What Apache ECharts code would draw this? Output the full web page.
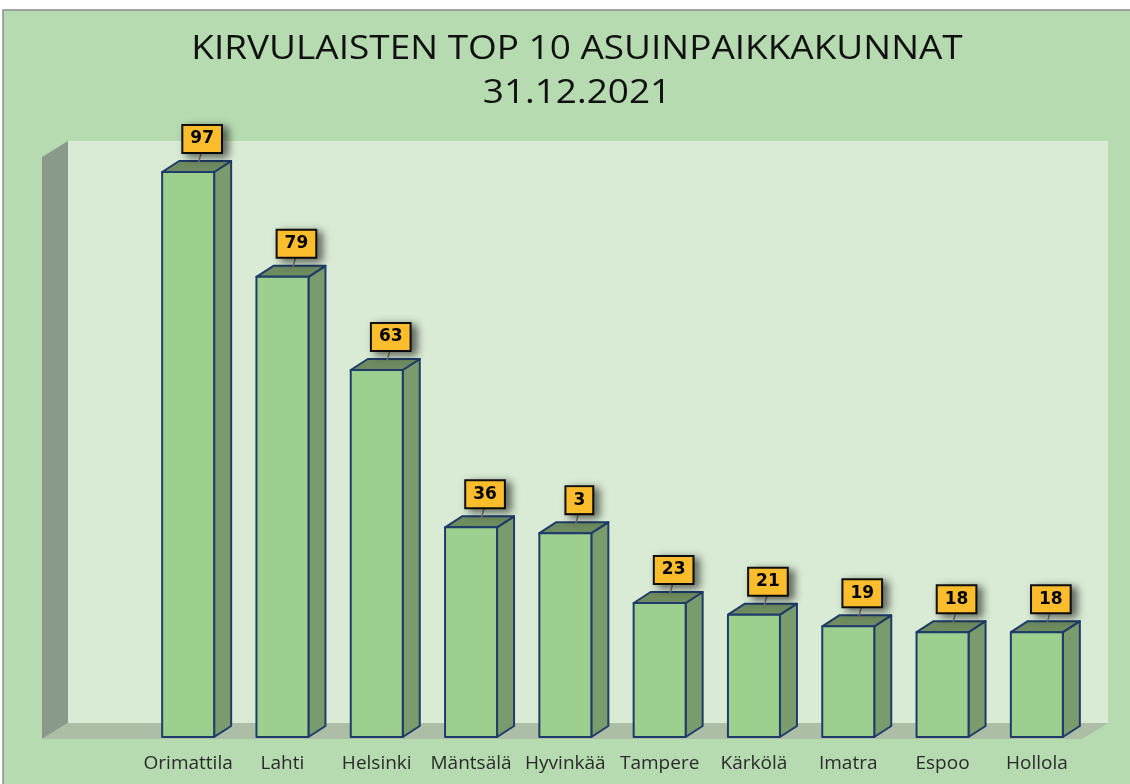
<!DOCTYPE html>
<html>
<head>
<meta charset="utf-8">
<script src="https://cdn.jsdelivr.net/npm/echarts@6/dist/echarts.min.js"></script>
<style>
  html, body { margin: 0; padding: 0; background: #fff; }
  #chart { width: 1130px; height: 784px; }
</style>
</head>
<body>
<div id="chart"></div>
<script>
// kunnat
const categories = ['Orimattila', 'Lahti', 'Helsinki', 'Mäntsälä', 'Hyvinkää', 'Tampere', 'Kärkölä', 'Imatra', 'Espoo', 'Hollola'];
// pylväiden korkeudet
const values = [97, 79, 63, 36, 35, 23, 21, 19, 18, 18];
// arvolaatikoiden tekstit niin kuin kuvassa
const labelTexts = ['97', '79', '63', '36', '3', '23', '21', '19', '18', '18'];
const titleLines = ['KIRVULAISTEN TOP 10 ASUINPAIKKAKUNNAT', '31.12.2021'];

const chart = echarts.init(document.getElementById('chart'));

// 3D-pylvään syvyys
const DX = 17;
const DY = 11;
const BAR_W = 52;

function renderBar(params, api) {
  const i = api.value(0);
  const top = api.coord([i, api.value(1)]);
  const base = api.coord([i, 0]);
  const l = top[0] - BAR_W / 2;
  const r = top[0] + BAR_W / 2;
  const border = { stroke: '#1f3b6a', lineWidth: 2, lineJoin: 'round' };
  const bx = top[0] + 14;
  const bBottom = top[1] - DY - 8;
  return {
    type: 'group',
    children: [
      {
        type: 'polygon',
        shape: { points: [[r, base[1]], [r + DX, base[1] - DY], [r + DX, top[1] - DY], [r, top[1]]] },
        style: Object.assign({ fill: '#7a9c6c' }, border)
      },
      {
        type: 'polygon',
        shape: { points: [[l, top[1]], [l + DX, top[1] - DY], [r + DX, top[1] - DY], [r, top[1]]] },
        style: Object.assign({ fill: '#6e8c5f' }, border)
      },
      {
        type: 'rect',
        shape: { x: l, y: top[1], width: BAR_W, height: base[1] - top[1] },
        style: Object.assign({ fill: '#9dcf8f' }, border)
      },
      {
        type: 'line',
        shape: { x1: bx - 1, y1: bBottom, x2: bx - 4, y2: top[1] - DY + 3 },
        style: { stroke: '#7d7d70', lineWidth: 1.5 }
      },
      {
        type: 'text',
        x: bx,
        y: bBottom - 14,
        style: {
          text: labelTexts[params.dataIndex],
          align: 'center',
          verticalAlign: 'middle',
          font: 'bold 17px "DejaVu Sans"',
          fill: '#000',
          backgroundColor: '#fbbd2b',
          borderColor: '#111',
          borderWidth: 2,
          padding: [5, 7, 4, 7],
          shadowBlur: 8,
          shadowColor: 'rgba(0,0,0,0.55)',
          shadowOffsetX: 5,
          shadowOffsetY: 3
        }
      }
    ]
  };
}

const titleStyle = {
  fontFamily: '"Open Sans", sans-serif',
  fontSize: 33,
  fill: '#111',
  align: 'center',
  verticalAlign: 'middle'
};

const option = {
  backgroundColor: '#fff',
  animation: false,
  graphic: [
    // taustat ja seinät
    { type: 'rect', z: -10, shape: { x: 3, y: 10, width: 1130, height: 780 }, style: { fill: '#b7dbb1', stroke: '#8a8f8a', lineWidth: 1.5 } },
    { type: 'rect', z: -9, shape: { x: 68, y: 141, width: 1040, height: 582 }, style: { fill: '#d9ebd4' } },
    { type: 'polygon', z: -9, shape: { points: [[42, 157], [68, 141], [68, 723], [42, 739]] }, style: { fill: '#89998a' } },
    { type: 'polygon', z: -9, shape: { points: [[42, 739], [68, 723], [1108, 723], [1082, 739]] }, style: { fill: '#adbea6' } },
    // otsikko
    { type: 'text', x: 577, y: 50, scaleX: 1.12, style: Object.assign({ text: titleLines[0] }, titleStyle) },
    { type: 'text', x: 577, y: 94, scaleX: 1.12, style: Object.assign({ text: titleLines[1] }, titleStyle) }
  ],
  grid: { left: 141, right: 46, top: 154.5, bottom: 47 },
  xAxis: {
    type: 'category',
    data: categories,
    axisLine: { show: false },
    axisTick: { show: false },
    axisLabel: {
      interval: 0,
      margin: 17,
      fontFamily: '"Open Sans", sans-serif',
      fontSize: 19,
      color: '#2a2a2a'
    }
  },
  yAxis: {
    type: 'value',
    min: 0,
    max: 100,
    show: false
  },
  series: [
    {
      type: 'custom',
      renderItem: renderBar,
      data: values.map((v, i) => [i, v]),
      clip: false
    }
  ]
};

chart.setOption(option);
</script>
</body>
</html>
